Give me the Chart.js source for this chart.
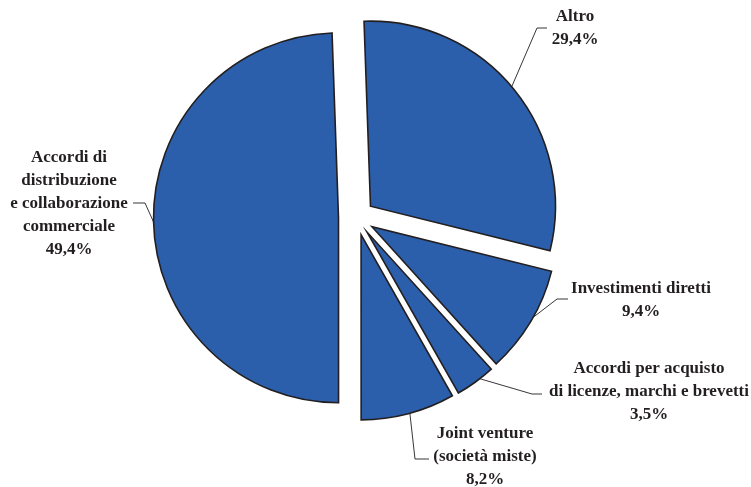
<!DOCTYPE html>
<html lang="it">
<head>
<meta charset="utf-8">
<script src="https://cdn.jsdelivr.net/npm/chart.js@4.4.1/dist/chart.umd.min.js"></script>
<style>
  html, body { margin: 0; padding: 0; background: #fff; }
</style>
</head>
<body>
<canvas id="pieChart" width="751" height="487"></canvas>
<script>
const categories = [
    ["Altro"],
    ["Investimenti diretti"],
    ["Accordi per acquisto", "di licenze, marchi e brevetti"],
    ["Joint venture", "(società miste)"],
    ["Accordi di", "distribuzione", "e collaborazione", "commerciale"]
];
const shares = [29.4, 9.4, 3.5, 8.2, 49.4];

const sliceColor = "#2b5fab";
const inkColor = "#231f20";
const explode = 18;      // how far each slice is pulled out from the centre
const lineStep = 23;

// text centre / first baseline, leader elbow and end, leader angle nudge (deg)
const labelLayout = [
    { x: 575, y: 21,  elbow: [537, 28],  end: [547, 28],  nudge: -1.2 },
    { x: 641, y: 293, elbow: [557, 299], end: [568, 299], nudge: -1.6 },
    { x: 649, y: 373, elbow: [532, 394], end: [542, 394], nudge: -1.7 },
    { x: 485, y: 438, elbow: [415, 459], end: [429, 459], nudge: -0.5 },
    { x: 69,  y: 162, elbow: [145, 203], end: [133, 203], nudge: -0.3 }
];

function pct(v){
    return v.toFixed(1).replace(".", ",") + "%";
}

// draw every arc shifted outwards along its own middle angle
const explodePlugin = {
    id: "explodeSlices",
    beforeDatasetDraw(chart, args){
        const ctx = chart.ctx;
        args.meta.data.forEach(function(arc){
            const mid = (arc.startAngle + arc.endAngle) / 2;
            ctx.save();
            ctx.translate(Math.cos(mid) * explode, Math.sin(mid) * explode);
            arc.draw(ctx);
            ctx.restore();
        });
        return false;
    }
};

// category names, percentages and leader lines
const labelPlugin = {
    id: "sliceLabels",
    afterDraw(chart){
        const ctx = chart.ctx;
        const arcs = chart.getDatasetMeta(0).data;
        ctx.save();
        ctx.strokeStyle = inkColor;
        ctx.lineWidth = 0.9;
        ctx.fillStyle = inkColor;
        ctx.font = "bold 17px 'Liberation Serif'";
        ctx.textAlign = "center";
        ctx.textBaseline = "alphabetic";
        arcs.forEach(function(arc, i){
            const lay = labelLayout[i];
            const mid = (arc.startAngle + arc.endAngle) / 2;
            const a = mid + lay.nudge * Math.PI / 180;
            const cx = arc.x + Math.cos(mid) * explode;
            const cy = arc.y + Math.sin(mid) * explode;
            const r = arc.outerRadius;
            ctx.beginPath();
            ctx.moveTo(cx + Math.cos(a) * r, cy + Math.sin(a) * r);
            ctx.lineTo(lay.elbow[0], lay.elbow[1]);
            ctx.lineTo(lay.end[0], lay.end[1]);
            ctx.stroke();
            const lines = categories[i].concat([pct(shares[i])]);
            lines.forEach(function(t, k){
                ctx.fillText(t, lay.x, lay.y + k * lineStep);
            });
        });
        ctx.restore();
    }
};

new Chart(document.getElementById("pieChart"), {
    type: "pie",
    data: {
        labels: categories,
        datasets: [{
            data: shares,
            backgroundColor: sliceColor,
            borderColor: inkColor,
            borderWidth: 1.6,
            borderJoinStyle: "miter"
        }]
    },
    options: {
        responsive: false,
        animation: false,
        events: [],
        rotation: -2,
        radius: 185,
        layout: { padding: { left: 0, right: 38, top: 0, bottom: 52 } },
        plugins: {
            legend: { display: false },
            tooltip: { enabled: false }
        }
    },
    plugins: [explodePlugin, labelPlugin]
});
</script>
</body>
</html>
